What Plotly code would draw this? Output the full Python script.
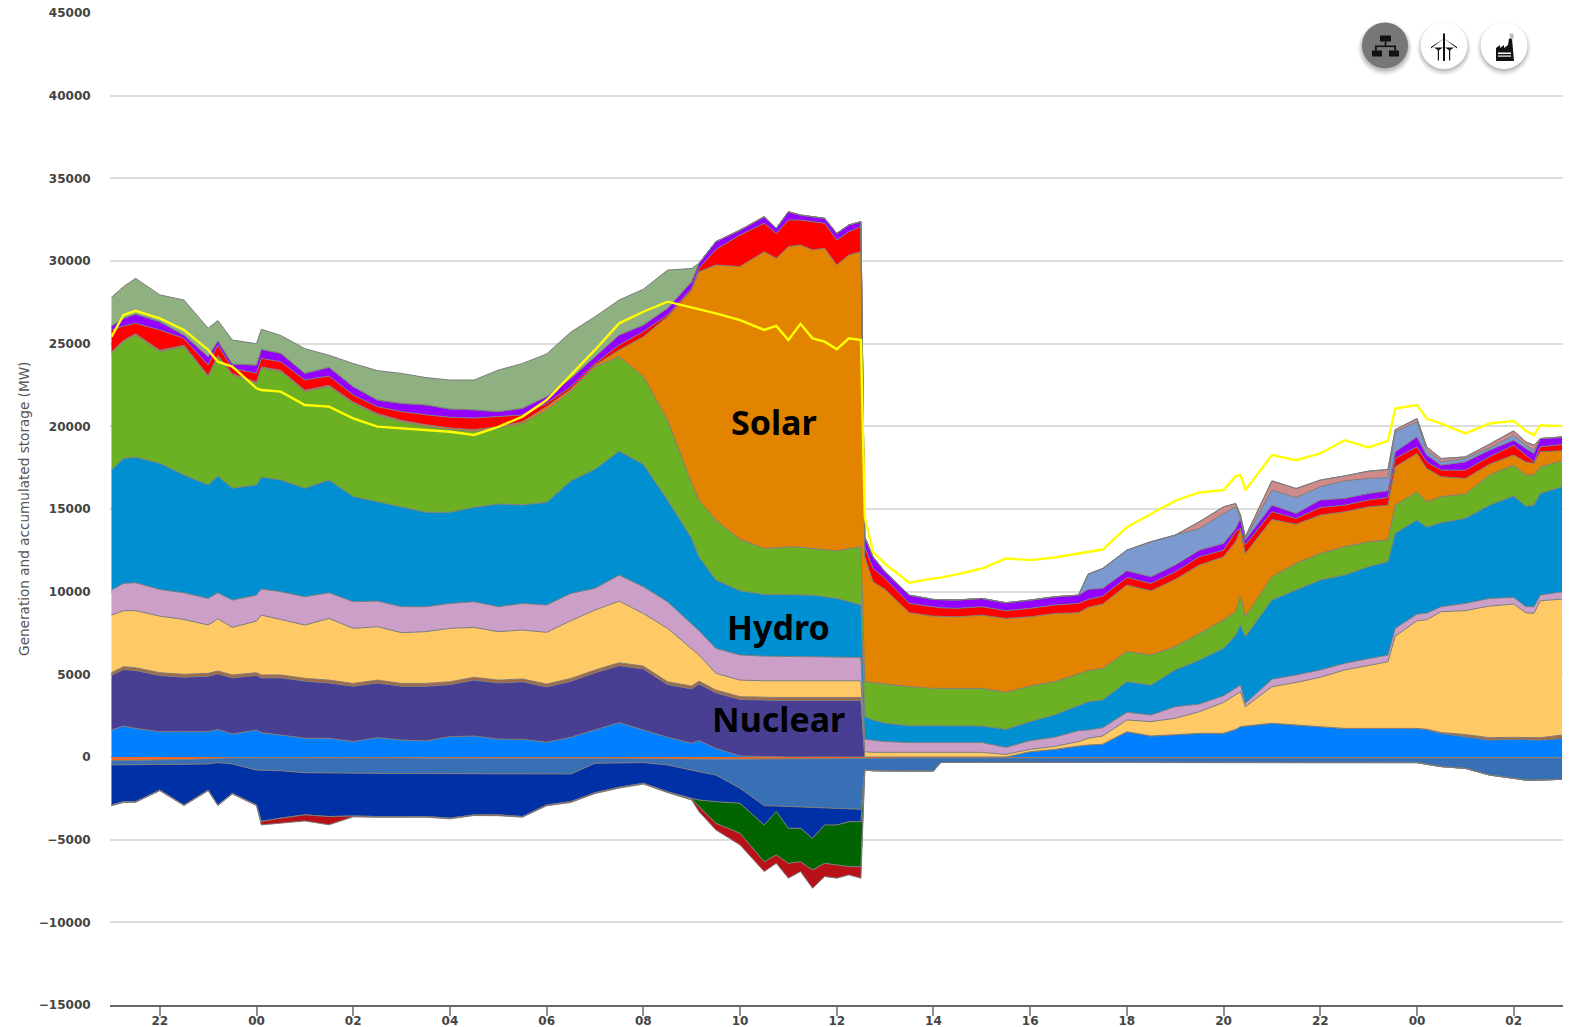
import plotly.graph_objects as go

# hours since 21:00 of the first day
HOURS = [0,.25,.5,1,1.5,2,2.2,2.5,3,3.1,3.5,4,4.5,5,5.5,6,
         6.5,7,7.5,8,8.5,9,9.5,10,10.5,11,11.5,12,
         12.15,12.5,13,13.5,13.75,14,14.25,14.5,14.75,15,15.25,15.5,
         15.58,15.75,16,16.5,17,17.15,17.5,18,18.5,19,19.5,20,20.2,20.5,
         21,21.5,22,22.5,23,23.25,23.35,23.45,
         24,24.5,25,25.5,26,26.4,26.55,27,27.2,27.5,28,28.5,29,29.25,29.42,29.55,30]

# cumulative upper edge of each positive layer (MW)
BLUE_TOP = [1630,1870,1730,1530,1530,1530,1670,1390,1630,1470,1330,1130,1130,930,1170,1030,
            970,1230,1270,1080,1070,890,1190,1630,2080,1630,1190,830,
            990,520,60,30,0,0,0,0,0,0,0,0,
            0,0,0,0,0,0,0,0,0,320,460,660,725,770,
            1530,1270,1370,1430,1430,1670,1830,1870,
            2040,1930,1830,1730,1730,1730,1730,1730,1650,1430,1230,1030,1070,1050,1030,1030,1130]
NUCLEAR_TOP = [4930,5290,5230,4930,4830,4890,5030,4790,4930,4790,4790,4590,4480,4280,4480,4280,
               4280,4380,4650,4480,4550,4240,4580,5090,5530,5330,4380,4120,
               4420,3880,3480,3430,3430,3430,3430,3430,3430,3430,3430,3430] + BLUE_TOP[40:]
BROWN_TOP = [5100,5460,5400,5100,5000,5060,5200,4960,5100,4960,4960,4760,4650,4450,4650,4450,
             4450,4550,4820,4650,4720,4410,4750,5260,5700,5500,4550,4290,
             4590,4050,3650,3600,3600,3600,3600,3600,3600,3600,3600,3600,
             0,0,0,0,0,0,0,0,0,320,460,660,725,770,
             1530,1270,1370,1430,1430,1670,1830,1870,
             2040,1930,1830,1730,1730,1730,1730,1730,1680,1480,1360,1170,1190,1180,1170,1170,1330]
GAS_TOP = [8580,8850,8850,8520,8320,7980,8360,7840,8220,8580,8320,7980,8380,7780,7880,7520,
           7580,7780,7840,7580,7680,7540,8240,8890,9430,8680,7780,6570,
           6170,5060,4650,4610,4610,4610,4610,4610,4610,4610,4610,4610,
           320,280,280,280,280,280,280,280,160,460,640,930,1130,1270,
           2240,2140,2340,2740,3300,3750,3950,3040,
           4250,4510,4820,5260,5560,5760,7310,8240,8300,8790,8850,9130,9250,8730,8690,9450,9550]
PINK_TOP = [10100,10500,10540,10130,9930,9590,9930,9490,9790,10160,10000,9690,9930,9390,9430,9090,
            9090,9290,9390,9090,9290,9190,9890,10200,11000,10300,9390,8080,
            7640,6570,6170,6100,6080,6060,6060,6060,6050,6040,6030,6020,
            1070,1000,930,870,870,870,870,870,580,990,1190,1590,1630,1770,
            2700,2540,3040,3200,3700,4150,4350,3240,
            4700,4960,5260,5660,5960,6170,7780,8640,8700,9090,9290,9590,9650,9090,9090,9790,9990]
HYDRO_TOP = [17360,18060,18130,17760,17060,16450,17000,16250,16450,16920,16760,16250,16750,15750,15440,15140,
             14800,14800,15100,15300,15250,15400,16700,17400,18500,17700,15540,13220,
             12110,10700,10050,9830,9830,9830,9830,9790,9700,9590,9400,9190,
             2440,2240,2040,1890,1890,1890,1860,1870,1670,2140,2540,3140,3340,3450,
             4550,4350,5260,5860,6570,7370,7980,7270,
             9490,10100,10700,11000,11510,11810,13520,14330,13900,14170,14430,15230,15780,15170,15230,15940,16340]
WIND_TOP = [24420,25120,25520,24520,24820,23000,24210,23100,22600,23510,23310,22100,22400,21390,20690,20280,
            20000,19800,19700,19880,20180,20990,22100,23600,24210,23000,20380,16550,
            15540,14330,13160,12610,12650,12710,12680,12610,12550,12470,12600,12710,
            4550,4500,4410,4250,4150,4150,4150,4150,3910,4290,4550,5060,5220,5360,
            6370,6170,6670,7480,8280,8790,9730,8480,
            10900,11710,12310,12710,13020,13120,15230,16040,15430,15740,15900,17050,17650,17050,17050,17550,17910]
SOLAR_TOP = [24500,25200,25600,24600,24900,23080,24290,23180,22680,23590,23390,22180,22480,21470,20770,20360,
             20100,19900,19800,19980,20280,21190,22250,23700,24620,25420,26630,28250,
             29350,29760,29660,30560,30160,30870,30970,30670,30770,29760,30360,30560,
             12110,10600,10140,8730,8520,8500,8480,8580,8380,8480,8680,8730,9050,9250,
             10400,10050,10740,11610,12110,13020,13720,12310,
             14370,14080,14630,14830,15130,15230,17550,18360,17450,16950,16850,17710,18260,17850,17750,18460,18520]
RED_TOP = [25830,26070,26230,25830,25320,23710,24920,23510,23210,24110,23910,22800,23040,21900,21190,20890,
           20700,20550,20500,20590,20690,21390,22400,23800,24920,25730,26730,28350,
           29550,30700,31570,32280,31670,32480,32480,32380,32280,31270,31770,32080,
           12710,11400,10800,9290,9050,9020,8990,9090,8850,8990,9190,9290,9530,9730,
           10860,10500,11200,12110,12510,13620,13820,12820,
           14830,14430,15090,15230,15540,15700,18060,18760,17850,17350,17350,18160,18860,18260,17850,18760,18900]
PURPLE_TOP = [26070,26530,26790,26330,25520,24210,25180,23770,23710,24660,24420,23210,23570,22400,21590,21390,
              21300,21050,21000,20890,21090,21800,22900,24210,25520,26130,27140,28750,
              29860,31170,31870,32680,31980,32980,32780,32680,32580,31670,32180,32380,
              13320,12110,11200,9790,9530,9520,9500,9590,9330,9490,9690,9790,10140,10200,
              11260,10900,11610,12510,12920,13820,14430,13120,
              15230,14730,15540,15640,15940,16100,18460,19360,18260,17650,17850,18560,19160,18660,18360,19260,19320]
STEEL_TOP = PURPLE_TOP[:52] + [11060,11400,
             12510,13020,13420,13820,14730,15130,14430,13220,
             16140,15700,16340,16700,16850,16900,19670,20270,18560,17850,18050,18700,19460,18860,18560,19260,19360]
ROSE_TOP = PURPLE_TOP[:52] + [11060,11400,
            12510,13020,13420,14230,15130,15330,14630,13320,
            16700,16240,16750,17000,17290,17390,19800,20470,18760,18050,18150,18920,19730,19060,18860,19260,19360]
SAGE_TOP = [27800,28450,28950,27950,27640,25930,26400,25220,25000,25870,25500,24700,24300,23800,23370,23200,
            22950,22800,22800,23400,23800,24380,25700,26630,27640,28290,29450,29550] + ROSE_TOP[28:]

# lower edge of each negative layer (MW)
ORANGE_BOTTOM = [-220,-220,-200,-180,-150,-100,-70,-50,-50,-50,-50,-50,-50,-50,-50,-50,
                 -50,-50,-50,-50,-60,-60,-70,-70,-80,-100,-120,-130,
                 -130,-130,-130,-130,-130,-130,-120,-120,-110,-100,-80,-70] + [-50]*39
STORAGE_BOTTOM = [-480,-480,-460,-450,-440,-420,-340,-420,-790,-800,-830,-950,-950,-990,-990,-1000,
                  -1000,-1000,-1000,-990,-990,-990,-1030,-380,-340,-340,-480,-830,
                  -890,-1090,-1890,-2940,-2970,-3000,-3020,-3040,-3070,-3100,-3130,-3160,
                  -800,-830,-850,-850,-850,-330,-330,-330,-330,-330,-330,-330,-330,-330,
                  -330,-330,-330,-330,-330,-330,-330,-330,
                  -340,-340,-340,-340,-340,-340,-340,-340,-440,-580,-690,-1090,-1290,-1400,-1410,-1390,-1350]
PUMP_BOTTOM = [-2900,-2700,-2700,-2000,-2900,-2000,-2900,-2200,-2900,-3900,-3700,-3500,-3600,-3570,-3600,-3600,
               -3600,-3700,-3500,-3500,-3600,-2900,-2700,-2160,-1830,-1590,-2100,-2500,
               -2600,-2700,-2800,-4110,-3300,-4310,-4310,-4920,-4110,-4110,-3910,-3910] + STORAGE_BOTTOM[40:]
GREEN_BOTTOM = PUMP_BOTTOM[:27] + [-2550,
                -3000,-4010,-4610,-6330,-5920,-6430,-6330,-6830,-6430,-6530,-6630,-6630] + STORAGE_BOTTOM[40:]
EXPORT_BOTTOM = [-2950,-2750,-2740,-2040,-2940,-2040,-2940,-2240,-2940,-4110,-4000,-3870,-4100,-3620,-3650,-3640,
                 -3640,-3740,-3540,-3550,-3640,-2950,-2750,-2210,-1880,-1640,-2150,-2600,
                 -3300,-4410,-5320,-6930,-6430,-7330,-6930,-7940,-7230,-7330,-7130,-7330] + STORAGE_BOTTOM[40:]

DEMAND = [25420,26730,26990,26530,25830,24620,23910,23610,22300,22200,22100,21290,21190,20480,19980,19880,
          19800,19670,19480,19970,20590,21590,23100,24620,26230,26930,27540,27200,
          27100,26830,26430,25830,26070,25220,26200,25320,25120,24660,25320,25220,
          14500,12410,11670,10540,10800,10850,11060,11400,12010,11910,12070,12310,12450,12550,
          13900,14700,15500,16000,16140,16990,17050,16140,
          18260,17950,18360,19160,18720,19120,21080,21280,20470,20170,19570,20170,20330,19730,19470,20070,20010]

Y_TICKS = [-15000,-10000,-5000,0,5000,10000,15000,20000,25000,30000,35000,40000,45000]
Y_LABELS = ["\u221215000","\u221210000","\u22125000","0","5000","10000","15000","20000","25000","30000","35000","40000","45000"]
X_TICKS = [1,3,5,7,9,11,13,15,17,19,21,23,25,27,29]
X_LABELS = ["22","00","02","04","06","08","10","12","14","16","18","20","22","00","02"]

POSITIVE = [("blue",BLUE_TOP,"#0080FF"),("nuclear",NUCLEAR_TOP,"#483F93"),("brown",BROWN_TOP,"#A5693F"),
            ("gas",GAS_TOP,"#FFC966"),("pink",PINK_TOP,"#CC9FC8"),("hydro",HYDRO_TOP,"#0090D2"),
            ("wind",WIND_TOP,"#6CB024"),("solar",SOLAR_TOP,"#E38400"),("red",RED_TOP,"#FF0000"),
            ("purple",PURPLE_TOP,"#9400FF"),("steel",STEEL_TOP,"#7C99D0"),("rose",ROSE_TOP,"#D08A8A"),
            ("sage",SAGE_TOP,"#8FB080")]
NEGATIVE = [("orange",ORANGE_BOTTOM,"#F0682A"),("storage",STORAGE_BOTTOM,"#3870B5"),("pump",PUMP_BOTTOM,"#0030A5"),
            ("green",GREEN_BOTTOM,"#006400"),("export",EXPORT_BOTTOM,"#B81218")]

W, H = 1571, 1027
L, R, T, B = 110, 1563, 12.5, 1004.7
fig = go.Figure()

def base():
    fig.add_trace(go.Scatter(x=HOURS, y=[0]*len(HOURS), mode="lines", line=dict(width=0),
                             hoverinfo="skip", showlegend=False))
def layer(name, vals, col):
    assert len(vals) == len(HOURS), name
    fig.add_trace(go.Scatter(x=HOURS, y=vals, name=name, mode="lines", fill="tonexty", fillcolor=col,
                             line=dict(color="#7c7c7c", width=1), hoverinfo="skip", showlegend=False))

base()
for n, v, c in POSITIVE:
    layer(n, v, c)
base()
for n, v, c in NEGATIVE:
    layer(n, v, c)
assert len(DEMAND) == len(HOURS)
fig.add_trace(go.Scatter(x=HOURS, y=DEMAND, name="demand", mode="lines",
                         line=dict(color="#FFFF00", width=2.4), hoverinfo="skip", showlegend=False))

def px(x): return (x - L) / (R - L)
def py(y): return (B - y) / (B - T)

shapes = []
def circle(cx, cy, r, fill):
    shapes.append(dict(type="circle", xref="paper", yref="paper", x0=px(cx-r), x1=px(cx+r), y0=py(cy+r), y1=py(cy-r),
                       fillcolor=fill, line=dict(width=0), layer="above"))
def poly(points, fill="#111111"):
    d = "M " + " L ".join(f"{px(a):.5f},{py(b):.5f}" for a, b in points) + " Z"
    shapes.append(dict(type="path", xref="paper", yref="paper", path=d, fillcolor=fill, line=dict(width=0), layer="above"))
def rect(a, b, c, d, fill="#111111"):
    poly([(a,b),(c,b),(c,d),(a,d)], fill)

for cx in (1385, 1444, 1504):
    for r, dy, alpha in ((27, 3, .05), (25.5, 2.5, .08), (24, 2, .12)):
        circle(cx, 45+dy, r, f"rgba(0,0,0,{alpha})")
circle(1385, 45, 23, "#777777")
circle(1444, 45, 23.5, "#ffffff")
circle(1504, 45, 23.5, "#ffffff")

# network icon
rect(1380,35,1391,41); rect(1384.6,41,1386.4,46); rect(1375,45,1396,46.6)
rect(1375,46,1376.8,50); rect(1394.2,46,1396,50)
rect(1372,50,1382,56); rect(1389,50,1399,56)
# wind icon
rect(1443,33,1445,60.5); poly([(1444,38),(1431,46.5),(1431,48)]); poly([(1444,38),(1457,46.5),(1457,48)])
poly([(1434,47),(1443,47),(1438.5,50)]); poly([(1445,47),(1454,47),(1449.5,50)])
rect(1437.8,48,1439,60); rect(1449,48,1450.2,60)
# factory icon
poly([(1496,60.5),(1496,47.5),(1500,44.5),(1500,47.5),(1504,44.5),(1504,47.5),(1508,44.5),(1509,38),(1512,38),(1514,60.5)])
rect(1498,52,1511,53.5,"#ffffff"); rect(1498,55,1511,56.2,"#ffffff")
poly([(1509.5,33),(1513,33),(1514,37),(1512,39),(1510,37)],"#bbbbbb")

fig.update_layout(
    width=W, height=H, autosize=False, paper_bgcolor="white", plot_bgcolor="white",
    margin=dict(l=L, r=W-R, t=T, b=H-B, pad=0), shapes=shapes, showlegend=False,
    xaxis=dict(range=[-0.03, 30.02], automargin=False, tickmode="array", tickvals=X_TICKS, ticktext=X_LABELS, ticks="outside",
               ticklen=9, tickcolor="#909090", tickwidth=2, ticklabelstandoff=-5, showgrid=False, zeroline=False, showline=True,
               linecolor="#666666", linewidth=1.5,
               tickfont=dict(family="DejaVu Sans", size=12, color="#444444", weight=700)),
    yaxis=dict(range=[-15000, 45000], automargin=False, tickmode="array", tickvals=Y_TICKS, ticktext=Y_LABELS, ticks="outside",
               ticklen=16, tickcolor="rgba(0,0,0,0)", showgrid=True, gridcolor="#dcdcdc", gridwidth=2,
               zeroline=False, showline=False,
               tickfont=dict(family="DejaVu Sans", size=12, color="#444444", weight=700)),
    annotations=[
        dict(text="Generation and accumulated storage (MW)", xref="paper", yref="paper", x=px(24.5), y=py(509),
             xanchor="center", yanchor="middle",
             textangle=-90, showarrow=False, font=dict(family="DejaVu Sans", size=13.6, color="#555555")),
        dict(text="<b>Solar</b>", x=13.7, y=20270, showarrow=False, font=dict(family="Noto Sans", size=34, color="#000000")),
        dict(text="<b>Hydro</b>", x=13.8, y=7880, showarrow=False, font=dict(family="Noto Sans", size=34, color="#000000")),
        dict(text="<b>Nuclear</b>", x=13.8, y=2300, showarrow=False, font=dict(family="Noto Sans", size=34, color="#000000")),
    ],
)
fig.write_html("out.html", config={"displayModeBar": False},
               post_script="document.body.style.margin='0';document.body.style.background='white';")
